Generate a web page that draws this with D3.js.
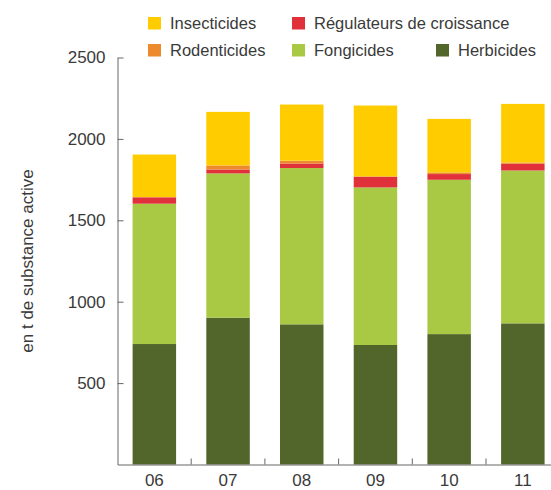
<!DOCTYPE html>
<html>
<head>
<meta charset="utf-8">
<script src="https://cdn.jsdelivr.net/npm/d3@7"></script>
<style>
  html, body { margin: 0; padding: 0; background: #fff; }
  svg { display: block; font-family: "Liberation Sans", Arial, sans-serif; }
</style>
</head>
<body>
<svg id="chart" width="551" height="490"></svg>
<script>
// Data (t de substance active), stacked bottom → top
const years = ['06', '07', '08', '09', '10', '11'];
const herbicides   = [740, 902, 861, 734, 801, 867];
const fongicides   = [862, 886, 960, 968, 948, 939];
const regulateurs  = [39, 24, 28, 64, 35, 41];
const rodenticides = [2, 25, 17, 4, 10, 8];
const insecticides = [261, 329, 345, 435, 329, 360];
const yTicks = [500, 1000, 1500, 2000, 2500];

const seriesMeta = [
  { key: 'herb',  label: 'Herbicides',                 color: '#52652a', values: herbicides },
  { key: 'fong',  label: 'Fongicides',                 color: '#a9c843', values: fongicides },
  { key: 'reg',   label: 'Régulateurs de croissance',  color: '#e0313b', values: regulateurs },
  { key: 'rod',   label: 'Rodenticides',               color: '#ec8a2d', values: rodenticides },
  { key: 'ins',   label: 'Insecticides',               color: '#ffcc00', values: insecticides }
];

const table = years.map((y, i) => {
  const row = { year: y };
  seriesMeta.forEach(s => { row[s.key] = s.values[i]; });
  return row;
});

const svg = d3.select('#chart');
const textColor = '#3a3a3a';
const axisColor = '#666';

const x0 = 117.5, step = 73.7;
const x = d3.scaleBand()
  .domain(years)
  .range([x0, x0 + step * years.length])
  .paddingInner(0.41)
  .paddingOuter(0.205);

const y = d3.scaleLinear().domain([0, 2500]).range([464.5, 57.5]);

const stack = d3.stack().keys(seriesMeta.map(s => s.key));
const layers = stack(table);
const colorOf = Object.fromEntries(seriesMeta.map(s => [s.key, s.color]));

// Bars
svg.append('g')
  .selectAll('g')
  .data(layers)
  .join('g')
  .attr('fill', d => colorOf[d.key])
  .selectAll('rect')
  .data(d => d)
  .join('rect')
  .attr('x', d => x(d.data.year))
  .attr('y', d => y(d[1]))
  .attr('width', x.bandwidth())
  .attr('height', d => Math.max(0, y(d[0]) - y(d[1])));

// Y axis (ticks pointing inward)
svg.append('g')
  .attr('transform', `translate(${x0},0)`)
  .call(d3.axisLeft(y).tickValues(yTicks).tickFormat(d3.format('d'))
    .tickSizeInner(-6).tickSizeOuter(0).tickPadding(12))
  .call(ax => ax.select('.domain').attr('stroke', axisColor))
  .call(ax => ax.selectAll('line').attr('stroke', axisColor))
  .call(ax => ax.selectAll('text').attr('fill', textColor).attr('font-size', 17)
    .attr('font-family', '"Liberation Sans", Arial, sans-serif'));

// X axis: labels under bars, short ticks between bars
svg.append('g')
  .attr('transform', `translate(0,${y(0)})`)
  .call(d3.axisBottom(x).tickSizeInner(0).tickSizeOuter(0).tickPadding(9))
  .call(ax => ax.select('.domain').attr('stroke', axisColor))
  .call(ax => ax.selectAll('text').attr('fill', textColor).attr('font-size', 17)
    .attr('font-family', '"Liberation Sans", Arial, sans-serif'));

svg.append('g')
  .selectAll('line')
  .data(years.slice(0, -1))
  .join('line')
  .attr('x1', d => x(d) + x.bandwidth() / 2 + x.step() / 2)
  .attr('x2', d => x(d) + x.bandwidth() / 2 + x.step() / 2)
  .attr('y1', y(0))
  .attr('y2', y(0) - 6)
  .attr('stroke', axisColor);

// Y axis title
svg.append('text')
  .attr('transform', `translate(33,${(y(0) + y(2500)) / 2}) rotate(-90)`)
  .attr('text-anchor', 'middle')
  .attr('fill', textColor)
  .attr('font-size', 17)
  .text('en t de substance active');

// Legend
const legendItems = [
  { key: 'ins',  x: 148, y: 17 },
  { key: 'reg',  x: 292, y: 17 },
  { key: 'rod',  x: 148, y: 44 },
  { key: 'fong', x: 292, y: 44 },
  { key: 'herb', x: 436, y: 44 }
];
const metaOf = Object.fromEntries(seriesMeta.map(s => [s.key, s]));

const lg = svg.append('g')
  .selectAll('g')
  .data(legendItems)
  .join('g')
  .attr('transform', d => `translate(${d.x},${d.y})`);

lg.append('rect')
  .attr('width', 13).attr('height', 12.5)
  .attr('fill', d => metaOf[d.key].color);

lg.append('text')
  .attr('x', 22).attr('y', 12)
  .attr('fill', textColor)
  .attr('font-size', 16.5)
  .text(d => metaOf[d.key].label);
</script>
</body>
</html>
